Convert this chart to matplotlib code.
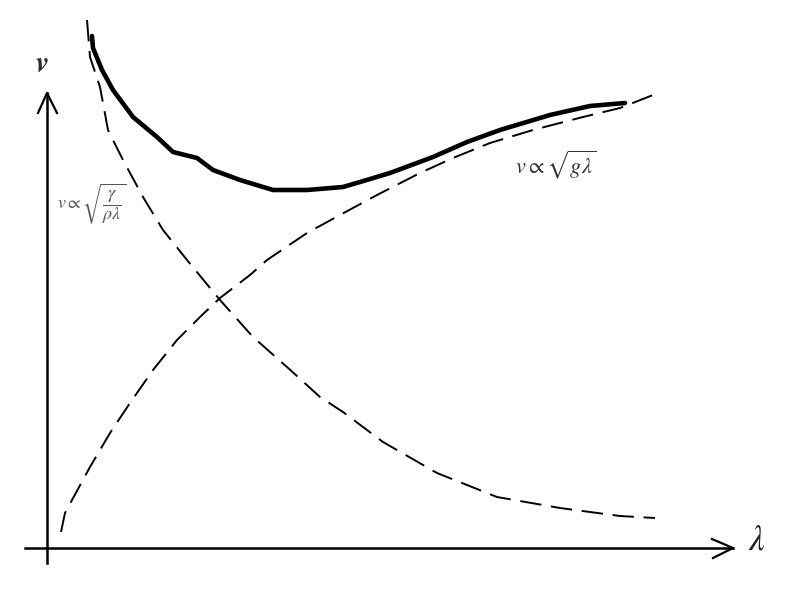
import matplotlib
matplotlib.use("Agg")
import matplotlib.pyplot as plt

plt.rcParams['mathtext.fontset'] = 'stix'

# Sketch traced in picture coordinates (x to the right, y downwards)
solid_x = [92, 93, 102, 113, 133, 157, 173, 197, 213, 240, 273, 307, 343, 360, 390, 433, 467, 500, 550, 590, 625]
solid_y = [36, 48, 70, 90, 117, 137, 152, 158, 170, 180, 190, 190, 187, 182, 173, 157, 142, 130, 115, 106, 103]

cap_x = [87, 90, 100, 108, 123, 143, 163, 187, 220, 253, 287, 320, 343, 383, 437, 497, 560, 620, 655]
cap_y = [20, 57, 87, 130, 160, 197, 230, 260, 300, 337, 367, 397, 412, 442, 473, 497, 508, 516, 518]

grav_x = [61, 65, 72, 90, 110, 130, 153, 177, 200, 220, 250, 267, 307, 340, 377, 420, 453, 490, 533, 583, 620, 653]
grav_y = [532, 513, 500, 467, 433, 403, 370, 340, 317, 298, 275, 260, 233, 215, 195, 173, 158, 143, 130, 117, 108, 95]

fig = plt.figure(figsize=(8, 6), dpi=100)
ax = fig.add_axes([0, 0, 1, 1])
ax.set_xlim(0, 800)
ax.set_ylim(600, 0)
ax.axis('off')

# axes with arrows
ax.plot([47, 47], [563, 93], color='black', lw=1.8)
ax.plot([38, 47, 57], [113, 93, 113], color='black', lw=1.6)
ax.plot([25, 733], [548, 548], color='black', lw=1.8)
ax.plot([712, 733, 713], [539, 548, 558], color='black', lw=1.6)

# curves
ax.plot(solid_x, solid_y, color='black', lw=3.3, solid_capstyle='round', solid_joinstyle='round')
ax.plot(cap_x, cap_y, color='black', lw=1.4, dashes=(11, 5))
ax.plot(grav_x, grav_y, color='black', lw=1.4, dashes=(11, 5))

# labels
ax.text(42, 64, r'$\boldsymbol{v}$', fontsize=21, color='#2a2a3a', ha='center', va='center')
ax.text(757, 540, r'$\lambda$', fontsize=25, color='#222222', ha='center', va='center')
ax.text(57, 204, r'$v \propto \sqrt{\dfrac{\gamma}{\rho\lambda}}$', fontsize=13, color='#555555',
        ha='left', va='center')
ax.text(515, 165, r'$v \propto \sqrt{g\lambda}$', fontsize=16, color='#333333', ha='left', va='center')

fig.savefig('out.png', dpi=100)
